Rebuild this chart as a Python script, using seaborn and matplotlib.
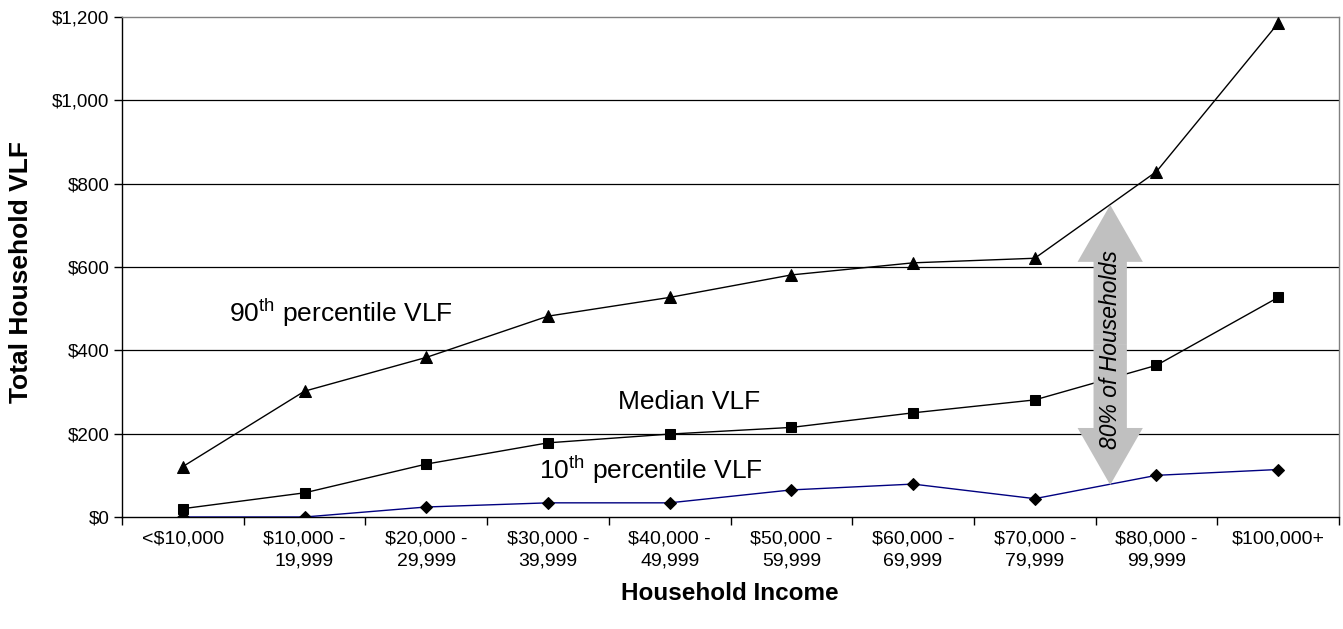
"""Household VLF by income band: 10th, median and 90th percentile lines."""

import numpy as np
import pandas as pd
import matplotlib
matplotlib.use("Agg")
import matplotlib.pyplot as plt
from matplotlib.patches import FancyArrowPatch
from matplotlib.ticker import FixedLocator, FuncFormatter
import seaborn as sns

# data
income_bands = ["<$10,000", "$10,000 -\n19,999", "$20,000 -\n29,999", "$30,000 -\n39,999",
                "$40,000 -\n49,999", "$50,000 -\n59,999", "$60,000 -\n69,999",
                "$70,000 -\n79,999", "$80,000 -\n99,999", "$100,000+"]
p90_vlf = [121, 302, 383, 482, 527, 581, 610, 621, 829, 1185]
median_vlf = [20, 58, 127, 178, 199, 215, 250, 281, 364, 527]
p10_vlf = [0, 0, 24, 34, 34, 65, 79, 44, 100, 114]
y_ticks = [0, 200, 400, 600, 800, 1000, 1200]

sns.set_style("white")
plt.rcParams.update({
    "font.family": ["Liberation Sans", "DejaVu Sans"],
    "mathtext.fontset": "custom",
    "mathtext.rm": "Liberation Sans",
    "mathtext.it": "Liberation Sans:italic",
    "mathtext.bf": "Liberation Sans:bold",
    "text.color": "black",
    "axes.labelcolor": "black",
    "xtick.color": "black",
    "ytick.color": "black",
})

df = pd.DataFrame({
    "band": income_bands * 3,
    "vlf": p90_vlf + median_vlf + p10_vlf,
    "series": ["p90"] * 10 + ["median"] * 10 + ["p10"] * 10,
})

fig = plt.figure(figsize=(13.43, 6.29), dpi=100)
ax = fig.add_axes([122 / 1343, 1 - 517 / 629, (1339 - 122) / 1343, 500 / 629])

# gridlines first so lines sit on top
for v in y_ticks[1:-1]:
    ax.axhline(v, color="black", lw=0.9, zorder=1)

styles = {"p90": ("^", 8.5, "black"), "median": ("s", 7.5, "black"), "p10": ("D", 6.5, "#000080")}
for name, (mk, ms, col) in styles.items():
    sns.lineplot(data=df[df.series == name], x="band", y="vlf", sort=False, ax=ax,
                 color=col, lw=1.0, marker=mk, markersize=ms, markerfacecolor="black",
                 markeredgecolor="black", legend=False, zorder=3)

ax.set_xlim(-0.5, len(income_bands) - 0.5)
ax.set_ylim(0, 1200)
ax.set_yticks(y_ticks)
ax.yaxis.set_major_formatter(FuncFormatter(lambda v, p: f"${v:,.0f}"))
ax.set_xticks(range(len(income_bands)))
ax.set_xticklabels(income_bands, fontsize=14, linespacing=1.35)
ax.xaxis.set_minor_locator(FixedLocator(np.arange(-0.5, len(income_bands), 1)))
ax.tick_params(axis="x", which="major", length=0, pad=10)
ax.tick_params(axis="x", which="minor", bottom=True, length=6, width=1, color="black")
ax.tick_params(axis="y", left=True, length=6, width=1, color="black", labelsize=13.5, pad=3)

for s in ["left", "bottom"]:
    ax.spines[s].set_color("black")
    ax.spines[s].set_linewidth(1)
for s in ["top", "right"]:
    ax.spines[s].set_color("#808080")
    ax.spines[s].set_linewidth(1)

ax.set_xlabel("Household Income", fontsize=17.5, fontweight="bold")
ax.set_ylabel("Total Household VLF", fontsize=19, fontweight="bold")
ax.xaxis.set_label_coords(0.4995, -0.13)
ax.yaxis.set_label_coords(-0.073, 0.49)

# series labels
ax.text(0.38, 490, "90$^{\\mathrm{th}}$ percentile VLF", fontsize=19, ha="left", va="center")
ax.text(3.575, 277, "Median VLF", fontsize=19, ha="left", va="center")
ax.text(2.925, 113, "10$^{\\mathrm{th}}$ percentile VLF", fontsize=19, ha="left", va="center")

# grey double arrow for the 10th-90th band
arrow_x, arrow_mid = 7.62, 413
for end in (749, 77):
    ax.add_patch(FancyArrowPatch((arrow_x, arrow_mid), (arrow_x, end),
                                 arrowstyle="simple,head_width=47,head_length=41,tail_width=24",
                                 mutation_scale=1, color="#c0c0c0", lw=0,
                                 shrinkA=0, shrinkB=0, zorder=4))
ax.text(arrow_x, 401, "80% of Households", rotation=90, fontsize=16.5, style="italic",
        ha="center", va="center", zorder=5)

fig.savefig("out.png", dpi=100)
